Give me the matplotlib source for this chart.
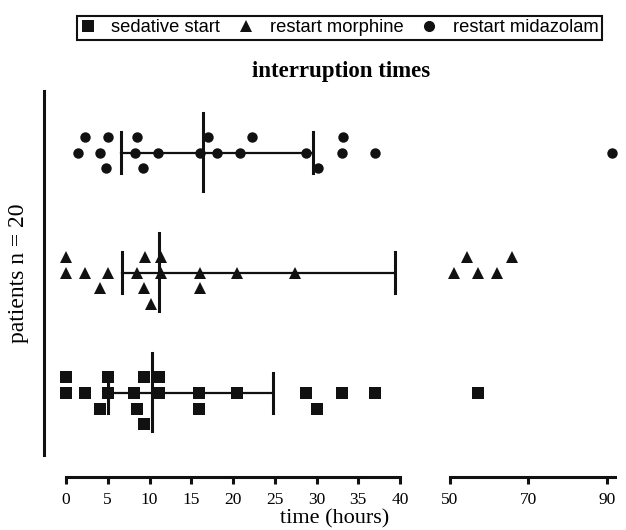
import numpy as np
import matplotlib
matplotlib.use("Agg")
import matplotlib.pyplot as plt
from matplotlib.lines import Line2D

plt.rcParams['font.family'] = 'Liberation Serif'

# interruption times in hours, with stack level (1 above, 0 on line, -1 below, -2 lowest)
sed_times = [0, 5.0, 9.35, 11.15, 0, 2.3, 5.0, 8.2, 11.15, 15.95, 20.5, 28.8, 33.0, 37.0,
             4.05, 8.45, 15.95, 30.1, 9.4, 57.1]
sed_stack = [1, 1, 1, 1, 0, 0, 0, 0, 0, 0, 0, 0, 0, 0, -1, -1, -1, -1, -2, 0]

mor_times = [0, 9.45, 11.35, 54.3, 65.9, 0, 2.3, 5.05, 8.45, 11.35, 16.05, 20.5, 27.4,
             51.1, 57.1, 61.9, 4.05, 9.35, 16.05, 10.2]
mor_stack = [1, 1, 1, 1, 1, 0, 0, 0, 0, 0, 0, 0, 0, 0, 0, 0, -1, -1, -1, -2]

mid_times = [2.3, 5.05, 8.45, 17.05, 22.25, 33.2, 1.45, 4.05, 8.25, 11.05, 16.05, 18.05,
             20.85, 28.8, 33.0, 37.0, 91.3, 4.85, 9.25, 30.2]
mid_stack = [1, 1, 1, 1, 1, 1, 0, 0, 0, 0, 0, 0, 0, 0, 0, 0, 0, -1, -1, -1]

# lower bar end, median, upper bar end
sed_summary = [5.0, 10.25, 24.75]
mor_summary = [6.65, 11.15, 39.4]
mid_summary = [6.6, 16.45, 29.6]

groups = [
    (sed_times, sed_stack, sed_summary, 's', 8.2, 'sedative start'),
    (mor_times, mor_stack, mor_summary, '^', 8.5, 'restart morphine'),
    (mid_times, mid_stack, mid_summary, 'o', 7.5, 'restart midazolam'),
]

fig = plt.figure(figsize=(6.26, 5.30), dpi=100)
W, H = 626, 530
ax1 = fig.add_axes([44 / W, 1 - 460 / H, (425 - 44) / W, (460 - 91) / H])
ax2 = fig.add_axes([430 / W, 1 - 460 / H, (626 - 430) / W, (460 - 91) / H])

step = 0.13
for ax in (ax1, ax2):
    for row, (t, st, summ, mk, ms, lab) in enumerate(groups, start=1):
        y = row + np.array(st) * step
        lo, med, hi = summ
        ax.plot([lo, hi], [row, row], color='#111111', lw=1.6, zorder=2)
        ax.plot([lo, lo], [row - 0.17, row + 0.17], color='#111111', lw=2.2, zorder=2)
        ax.plot([hi, hi], [row - 0.17, row + 0.17], color='#111111', lw=2.2, zorder=2)
        ax.plot([med, med], [row - 0.32, row + 0.33], color='#111111', lw=2.2, zorder=2)
        ax.plot(t, y, linestyle='none', marker=mk, markersize=ms, color='#111111',
                markeredgewidth=0, zorder=3)
    ax.set_ylim(1 - (460 - 393) / 120, 3 + (152.7 - 91) / 120)
    ax.set_yticks([])
    for s in ('top', 'right'):
        ax.spines[s].set_visible(False)
    ax.spines['bottom'].set_position(('outward', 12))
    ax.spines['bottom'].set_linewidth(2.2)
    ax.spines['bottom'].set_color('#111111')
    ax.tick_params(axis='x', direction='out', length=5, width=2.2, color='#111111',
                   labelsize=12.5, pad=6)
    ax.patch.set_visible(False)

ax1.set_xlim(-(66 - 44) / 8.35, 40 + (425 - 400) / 8.35)
ax1.set_xticks(np.arange(0, 41, 5))
ax1.spines['bottom'].set_bounds(0, 40)
ax1.spines['left'].set_linewidth(2.2)
ax1.spines['left'].set_color('#111111')
ax1.spines['left'].set_bounds(1 - (455 - 393) / 120, 3 + (152.7 - 91) / 120)

ax2.set_xlim(50 - (450 - 430) / 3.92, 90 + (626 - 606.7) / 3.92)
ax2.set_xticks([50, 70, 90])
ax2.spines['bottom'].set_bounds(50, 92.2)
ax2.spines['left'].set_visible(False)

fig.text(335 / W, 1 - 519 / H, 'time (hours)', ha='center', va='center', fontsize=16)
fig.text(19 / W, 1 - 273 / H, 'patients n = 20', ha='center', va='center',
         rotation=90, fontsize=17)
fig.text(341 / W, 1 - 72 / H, 'interruption times', ha='center', va='center',
         fontsize=16.5, fontweight='bold')

handles = [Line2D([], [], linestyle='none', marker=g[3], markersize=8, color='#111111',
                  markeredgewidth=0) for g in groups]
leg = fig.legend(handles, [g[5] for g in groups], loc='center', ncol=3,
                 bbox_to_anchor=(339.5 / W, 1 - 28 / H), frameon=True, fancybox=False,
                 edgecolor='#111111', framealpha=1, handlelength=0.8, handletextpad=0.9,
                 columnspacing=1.0, borderpad=0.2, borderaxespad=0,
                 prop={'family': 'Liberation Sans', 'size': 13.2})
leg.get_frame().set_linewidth(1.5)

fig.savefig('out.png', dpi=100)
